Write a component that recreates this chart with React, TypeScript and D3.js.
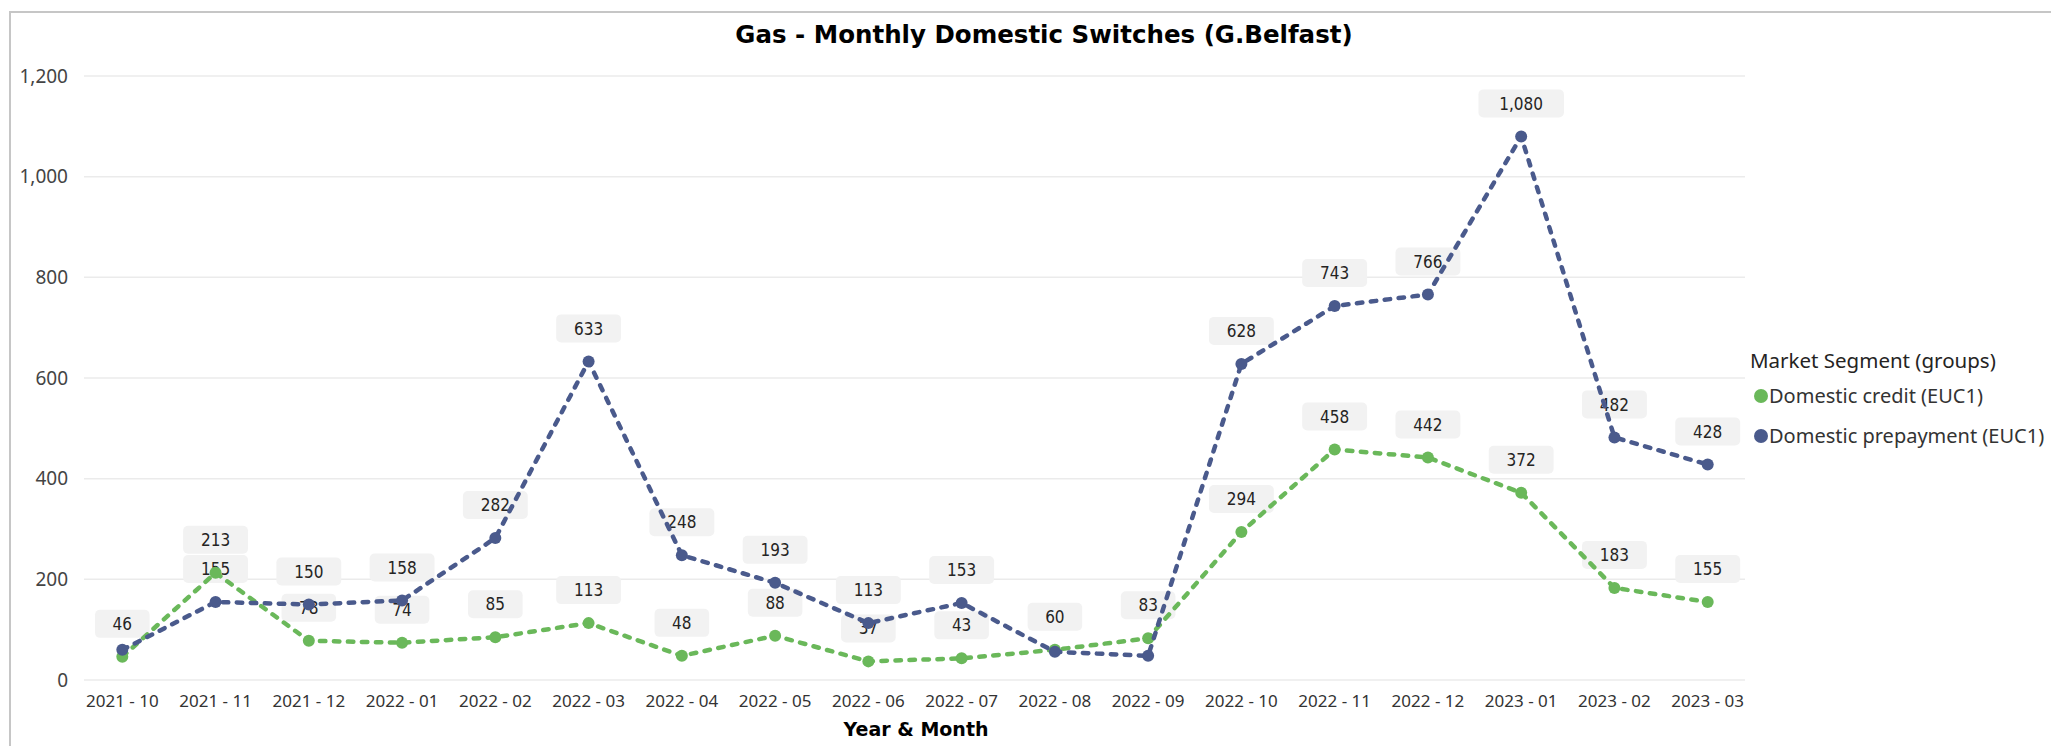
import * as React from "react"
import * as d3 from "d3"

const months = [
  "2021 - 10", "2021 - 11", "2021 - 12", "2022 - 01", "2022 - 02", "2022 - 03",
  "2022 - 04", "2022 - 05", "2022 - 06", "2022 - 07", "2022 - 08", "2022 - 09",
  "2022 - 10", "2022 - 11", "2022 - 12", "2023 - 01", "2023 - 02", "2023 - 03",
]
const creditValues = [46, 213, 78, 74, 85, 113, 48, 88, 37, 43, 60, 83, 294, 458, 442, 372, 183, 155]
const prepayValues = [60, 155, 150, 158, 282, 633, 248, 193, 113, 153, 56, 48, 628, 743, 766, 1080, 482, 428]
const yTicks = [0, 200, 400, 600, 800, 1000, 1200]

const seriesNames = ["Domestic credit (EUC1)", "Domestic prepayment (EUC1)"]
const seriesColors = ["#6ab85a", "#4a5a8c"]

const W = 2051
const H = 746
const labelFont = "'DejaVu Sans Condensed', 'DejaVu Sans', sans-serif"
const uiFont = "'Noto Sans', 'Open Sans', sans-serif"
const boldFont = "'DejaVu Sans', sans-serif"

function render(svgEl: SVGSVGElement) {
  const svg = d3.select(svgEl)
  svg.selectAll("*").remove()

  const x = d3.scalePoint<string>().domain(months).range([85, 1745]).padding(0.4)
  const y = d3.scaleLinear().domain([0, 1200]).range([680, 76])

  // frame
  svg
    .append("rect")
    .attr("x", 10)
    .attr("y", 12)
    .attr("width", W + 20)
    .attr("height", H + 20)
    .attr("fill", "#fff")
    .attr("stroke", "#c6c6c6")
    .attr("stroke-width", 2)

  svg
    .append("text")
    .attr("x", 1044)
    .attr("y", 43)
    .attr("text-anchor", "middle")
    .attr("font-family", boldFont)
    .attr("font-weight", "bold")
    .attr("font-size", 24.5)
    .attr("fill", "#000")
    .text("Gas - Monthly Domestic Switches (G.Belfast)")

  // grid + y axis
  const grid = svg.append("g")
  grid
    .selectAll("line")
    .data(yTicks)
    .join("line")
    .attr("x1", 84)
    .attr("x2", 1745)
    .attr("y1", (d) => y(d))
    .attr("y2", (d) => y(d))
    .attr("stroke", "#ebebeb")
    .attr("stroke-width", 1.5)
  grid
    .selectAll("text")
    .data(yTicks)
    .join("text")
    .attr("x", 68)
    .attr("y", (d) => y(d))
    .attr("dy", "0.35em")
    .attr("text-anchor", "end")
    .attr("font-family", uiFont)
    .attr("font-size", 19)
    .attr("fill", "#444")
    .text((d) => d3.format(",")(d))

  // x axis labels
  svg
    .append("g")
    .selectAll("text")
    .data(months)
    .join("text")
    .attr("x", (d) => x(d)!)
    .attr("y", 707)
    .attr("text-anchor", "middle")
    .attr("font-family", uiFont)
    .attr("font-size", 17)
    .attr("fill", "#333")
    .text((d) => d)

  svg
    .append("text")
    .attr("x", 916)
    .attr("y", 736)
    .attr("text-anchor", "middle")
    .attr("font-family", boldFont)
    .attr("font-weight", "bold")
    .attr("font-size", 19)
    .attr("fill", "#000")
    .text("Year & Month")

  const series = [creditValues, prepayValues]

  // data labels (drawn under the lines), hide colliding ones
  type Box = { x0: number; x1: number; y0: number; y1: number }
  const placed: Box[] = []
  const labelLayer = svg.append("g")
  series.forEach((vals) => {
    vals.forEach((v, i) => {
      const txt = d3.format(",")(v)
      const cx = x(months[i])!
      const cy = y(v) - 33
      const bw = txt.length * 10.3 + 34
      const bh = 28
      const box = { x0: cx - bw / 2, x1: cx + bw / 2, y0: cy - bh / 2, y1: cy + bh / 2 }
      const hit = placed.some(
        (b) => b.x0 < box.x1 && box.x0 < b.x1 && b.y0 < box.y1 - 1 && box.y0 < b.y1 - 1
      )
      if (hit) return
      placed.push(box)
      labelLayer
        .append("rect")
        .attr("x", box.x0)
        .attr("y", box.y0)
        .attr("width", bw)
        .attr("height", bh)
        .attr("rx", 5)
        .attr("fill", "#f2f2f2")
      labelLayer
        .append("text")
        .attr("x", cx)
        .attr("y", cy)
        .attr("dy", "0.36em")
        .attr("text-anchor", "middle")
        .attr("font-family", labelFont)
        .attr("font-size", 17)
        .attr("fill", "#252423")
        .text(txt)
    })
  })

  const line = d3
    .line<number>()
    .x((_d, i) => x(months[i])!)
    .y((d) => y(d))

  series.forEach((vals, si) => {
    const g = svg.append("g")
    g.append("path")
      .datum(vals)
      .attr("d", line)
      .attr("fill", "none")
      .attr("stroke", seriesColors[si])
      .attr("stroke-width", 4.5)
      .attr("stroke-dasharray", "5.5 8.5")
      .attr("stroke-linecap", "round")
    g.selectAll("circle")
      .data(vals)
      .join("circle")
      .attr("cx", (_d, i) => x(months[i])!)
      .attr("cy", (d) => y(d))
      .attr("r", 6)
      .attr("fill", seriesColors[si])
  })

  // legend
  const lg = svg.append("g")
  lg.append("text")
    .attr("x", 1750)
    .attr("y", 368)
    .attr("font-family", uiFont)
    .attr("font-size", 20.5)
    .attr("fill", "#252423")
    .text("Market Segment (groups)")
  seriesNames.forEach((name, i) => {
    const cy = 396 + i * 40
    lg.append("circle").attr("cx", 1761).attr("cy", cy).attr("r", 7).attr("fill", seriesColors[i])
    lg.append("text")
      .attr("x", 1769)
      .attr("y", cy)
      .attr("dy", "0.35em")
      .attr("font-family", uiFont)
      .attr("font-size", 20)
      .attr("fill", "#333")
      .text(name)
  })
}

export default function App(): React.JSX.Element {
  const ref = React.useRef<SVGSVGElement>(null)
  React.useEffect(() => {
    if (ref.current) render(ref.current)
  }, [])
  return (
    <div style={{ position: "absolute", left: 0, top: 0 }}>
      <svg ref={ref} width={W} height={H} style={{ display: "block" }} />
    </div>
  )
}
